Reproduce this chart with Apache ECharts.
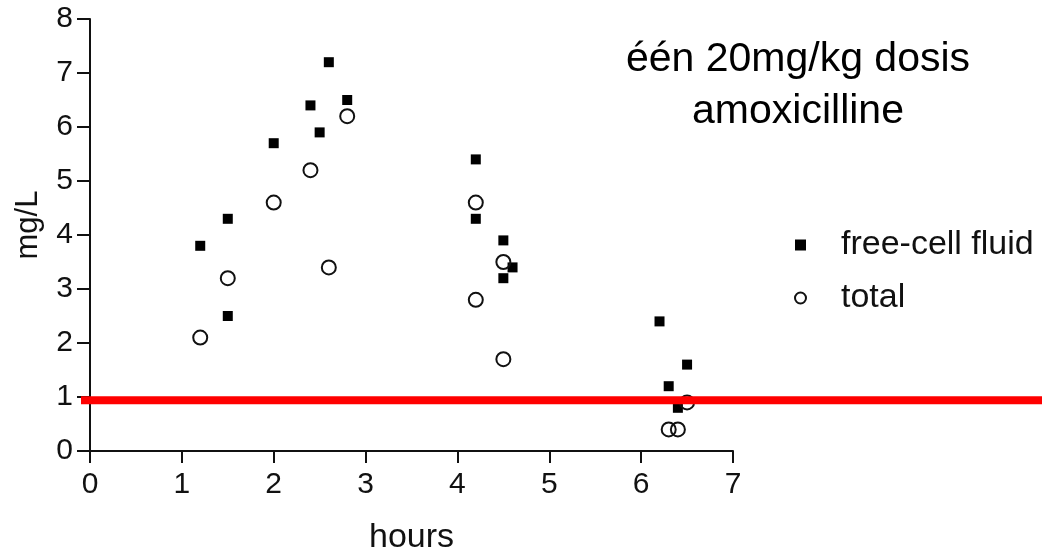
<!DOCTYPE html>
<html>
<head>
<meta charset="utf-8">
<script src="https://cdn.jsdelivr.net/npm/echarts@6/dist/echarts.min.js"></script>
<style>
html,body{margin:0;padding:0;background:#fff;}
#c{width:1042px;height:554px;}
</style>
</head>
<body>
<div id="c"></div>
<script>
// ---- data ----
var titleText = 'één 20mg/kg dosis\namoxicilline';
var xName = 'hours';
var yName = 'mg/L';
var seriesNames = ['free-cell fluid', 'total'];
var xTicks = [0, 1, 2, 3, 4, 5, 6, 7];
var yTicks = [0, 1, 2, 3, 4, 5, 6, 7, 8];
var freeCellFluid = [
  [1.2, 3.8], [1.5, 4.3], [1.5, 2.5], [2.0, 5.7], [2.4, 6.4], [2.5, 5.9],
  [2.6, 7.2], [2.8, 6.5], [4.2, 5.4], [4.2, 4.3], [4.5, 3.9], [4.5, 3.2],
  [4.6, 3.4], [6.2, 2.4], [6.3, 1.2], [6.5, 1.6], [6.4, 0.8]
];
var total = [
  [1.2, 2.1], [1.5, 3.2], [2.0, 4.6], [2.4, 5.2], [2.6, 3.4], [2.8, 6.2],
  [4.2, 4.6], [4.2, 2.8], [4.5, 3.5], [4.5, 1.7], [6.3, 0.4], [6.4, 0.4], [6.5, 0.9]
];
var thresholdValue = 0.94;
var thresholdLine = [[0, thresholdValue], [1, thresholdValue]];

// ---- chart ----
var FONT = "'Liberation Sans', Arial, sans-serif";
var INK = '#000000';
var chart = echarts.init(document.getElementById('c'), null, {renderer: 'canvas'});
var option = {
  animation: false,
  backgroundColor: '#ffffff',
  title: {
    text: titleText,
    left: 793,
    top: 29,
    textAlign: 'center',
    textStyle: {fontFamily: FONT, fontSize: 41, fontWeight: 'normal', color: '#000', lineHeight: 52}
  },
  legend: {
    orient: 'vertical',
    left: 789,
    top: 223,
    itemWidth: 11,
    itemHeight: 11,
    itemGap: 19,
    textStyle: {fontFamily: FONT, fontSize: 34, color: '#111', lineHeight: 32, padding: [0, 0, 0, 30]},
    data: [
      {name: seriesNames[0], icon: 'rect', itemStyle: {color: INK, opacity: 1}},
      {name: seriesNames[1], icon: 'circle', itemStyle: {color: '#fff', borderColor: '#111', borderWidth: 2, opacity: 1}}
    ]
  },
  grid: [
    {left: 90, right: 309, top: 19, bottom: 103, containLabel: false, outerBoundsMode: 'none'},
    {left: 81, right: 0, top: 19, bottom: 103, containLabel: false, outerBoundsMode: 'none'}
  ],
  xAxis: [
    {
      type: 'value', gridIndex: 0, min: xTicks[0], max: xTicks[xTicks.length - 1], interval: 1,
      name: xName, nameLocation: 'middle', nameGap: 70,
      nameTextStyle: {fontFamily: FONT, fontSize: 34, color: '#111'},
      axisLine: {show: true, onZero: false, lineStyle: {color: '#111', width: 2}},
      axisTick: {show: true, length: 12, lineStyle: {color: '#111', width: 2}},
      axisLabel: {fontFamily: FONT, fontSize: 30, color: '#111', margin: 19},
      splitLine: {show: false}
    },
    {type: 'value', gridIndex: 1, min: 0, max: 1, show: false}
  ],
  yAxis: [
    {
      type: 'value', gridIndex: 0, min: yTicks[0], max: yTicks[yTicks.length - 1], interval: 1,
      name: yName, nameLocation: 'middle', nameGap: 46, nameRotate: 90,
      nameTextStyle: {fontFamily: FONT, fontSize: 31, color: '#111', padding: [0, 0, 0, 20]},
      axisLine: {show: true, onZero: false, lineStyle: {color: '#111', width: 2}},
      axisTick: {show: true, length: 13, lineStyle: {color: '#111', width: 2}},
      axisLabel: {fontFamily: FONT, fontSize: 30, color: '#111', margin: 17},
      splitLine: {show: false}
    },
    {type: 'value', gridIndex: 1, min: 0, max: 8, show: false}
  ],
  series: [
    {
      name: seriesNames[0], type: 'scatter', xAxisIndex: 0, yAxisIndex: 0,
      symbol: 'rect', symbolSize: 10, data: freeCellFluid,
      itemStyle: {color: INK, opacity: 1}, z: 3
    },
    {
      name: seriesNames[1], type: 'scatter', xAxisIndex: 0, yAxisIndex: 0,
      symbol: 'circle', symbolSize: 14, data: total,
      itemStyle: {color: 'rgba(255,255,255,0)', borderColor: '#111', borderWidth: 2, opacity: 1}, z: 4
    },
    {
      name: 'threshold', type: 'line', xAxisIndex: 1, yAxisIndex: 1,
      data: thresholdLine, symbol: 'none', silent: true,
      lineStyle: {color: '#ff0000', width: 8}, z: 10
    }
  ]
};
chart.setOption(option);
</script>
</body>
</html>
